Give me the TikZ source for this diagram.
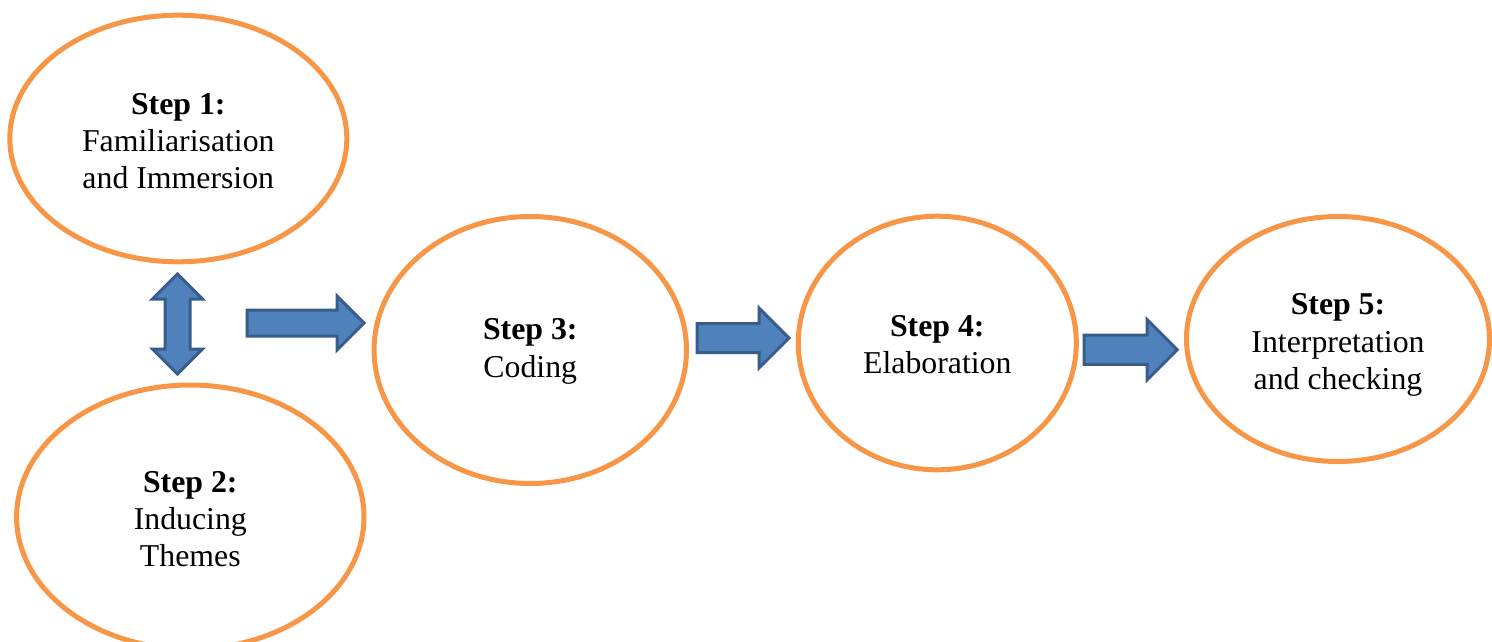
\documentclass[tikz,border=0pt]{standalone}
\usepackage{fontspec}
\setmainfont{Liberation Serif}
\usetikzlibrary{shapes.geometric,shapes.arrows}

\definecolor{stepOrange}{HTML}{F79646}
\definecolor{arrowFill}{HTML}{4F81BD}
\definecolor{arrowLine}{HTML}{385D8A}

% invisible strut that lowers a bubble's text block a little
\newcommand{\toppad}[1]{\rule{0pt}{#1}}

\tikzset{
  stepbubble/.style={ellipse, draw=stepOrange, line width=5pt, fill=white,
    inner sep=0pt, outer sep=0pt, align=center,
    font=\fontsize{31.8}{37.3}\selectfont},
  flowarrow/.style={single arrow, draw=arrowLine, fill=arrowFill,
    line width=3pt, inner xsep=0pt, outer sep=0pt, anchor=tail,
    single arrow tip angle=90},
  bothways/.style={double arrow, draw=arrowLine, fill=arrowFill,
    line width=3pt, inner ysep=0pt, outer sep=0pt,
    double arrow tip angle=90, shape border rotate=90}
}

\begin{document}
\begin{tikzpicture}[x=1pt,y=-1pt]
  \useasboundingbox (0,0) rectangle (1492,642);

  % the five stages
  \node[stepbubble, minimum width=337pt, minimum height=246.6pt] (s1) at (178.3,138.5)
    {\toppad{26pt}\textbf{Step 1:}\\Familiarisation\\and Immersion};
  \node[stepbubble, minimum width=347.4pt, minimum height=264pt] (s2) at (190.3,517)
    {\toppad{25pt}\textbf{Step 2:}\\Inducing\\Themes};
  \node[stepbubble, minimum width=312.4pt, minimum height=267pt] (s3) at (530.3,350)
    {\toppad{24pt}\textbf{Step 3:}\\Coding};
  \node[stepbubble, minimum width=278pt, minimum height=253.6pt] (s4) at (937.3,343)
    {\toppad{24pt}\textbf{Step 4:}\\Elaboration};
  \node[stepbubble, minimum width=303pt, minimum height=245pt] (s5) at (1338,339)
    {\toppad{33pt}\textbf{Step 5:}\\Interpretation\\and checking};

  % block arrows between the stages
  \node[bothways, minimum height=100pt, inner xsep=11pt,
        double arrow head extend=12.5pt] (a12) at (177.5,324) {};
  \node[flowarrow, minimum height=116.8pt, inner ysep=11.5pt,
        single arrow head extend=14pt] (a23) at (247.2,323) {};
  \node[flowarrow, minimum height=91.8pt, inner ysep=13pt,
        single arrow head extend=15.5pt] (a34) at (697.2,338) {};
  \node[flowarrow, minimum height=93pt, inner ysep=13.15pt,
        single arrow head extend=15.35pt] (a45) at (1084.2,349.7) {};
\end{tikzpicture}
\end{document}
